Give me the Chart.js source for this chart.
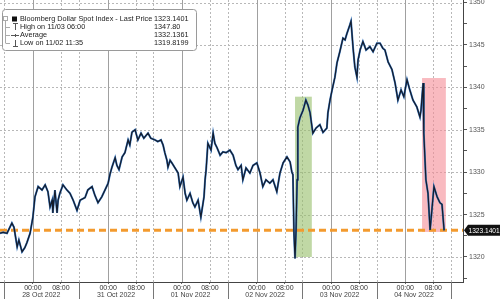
<!DOCTYPE html>
<html>
<head>
<meta charset="utf-8">
<script src="https://cdn.jsdelivr.net/npm/chart.js@4.4.0/dist/chart.umd.min.js"></script>
<style>
  html, body { margin: 0; padding: 0; background: #fff; }
</style>
</head>
<body>
<canvas id="chart" width="500" height="299"></canvas>
<script>
// trading hours on the axis (weekend removed)
const hours = [
  0.0, 0.9, 2.0, 3.4, 4.0, 4.9, 5.4, 6.3, 7.1, 7.7, 8.6, 9.4, 10.0, 10.9, 12.0, 12.9, 13.7, 14.3, 14.9, 15.1,
  15.7, 16.3, 16.6, 17.1, 18.0, 19.1, 20.0, 20.9, 22.0,
  22.9, 24.3, 25.1, 26.3, 27.1, 28.0, 29.1, 30.0, 30.9, 31.4, 32.0, 32.9, 33.4, 34.0, 34.9, 35.7, 36.6, 37.1,
  37.7, 38.6, 39.4, 40.3, 41.1, 42.3, 43.1,
  44.3, 45.1, 46.0, 46.6, 47.1, 47.7, 48.0, 48.6, 49.1, 50.0, 50.9, 51.4, 52.3, 52.9, 53.4, 54.3, 55.1, 55.7,
  56.6, 57.4, 57.7, 58.3, 58.6, 58.9, 59.4, 60.3, 60.9, 61.4, 62.0, 62.9, 63.7, 64.6,
  65.7, 66.6, 67.4, 68.0, 68.9, 69.4, 70.3, 71.4, 72.3, 73.4, 74.3, 75.1, 76.0, 77.1, 78.0, 79.1, 80.0, 80.9,
  82.0, 82.9, 83.4, 83.7, 84.0, 84.3, 84.6, 84.9, 85.1, 85.7, 86.6, 87.4, 88.0, 88.6,
  89.4, 90.3, 91.4, 92.3, 93.4, 93.7, 94.3, 94.9, 95.7, 96.3, 97.1, 98.0, 98.6, 99.1, 100.0, 100.3, 100.9,
  101.4, 102.0, 102.3, 102.9, 103.7, 104.6, 105.7, 106.6, 107.7,
  108.6, 109.4, 110.0, 110.9, 112.0, 112.9, 113.7, 114.6, 115.4, 116.3, 117.1, 118.0, 119.1, 120.0, 120.3,
  120.9, 121.1, 121.7, 122.3, 122.9, 123.4, 124.0, 124.9, 125.7, 126.3, 126.9
];
const prices = [
  1322.8, 1322.9, 1322.8, 1324.0, 1323.5, 1321.2, 1322.0, 1320.6, 1321.1, 1321.7, 1322.8, 1324.7, 1327.1, 1328.3, 1327.9, 1328.5, 1327.7, 1325.9, 1326.7, 1325.2,
  1327.9, 1325.2, 1326.7, 1327.5, 1328.5, 1327.9, 1327.5, 1326.7, 1325.5,
  1326.7, 1327.0, 1327.9, 1328.3, 1327.3, 1326.4, 1327.1, 1327.9, 1328.7, 1329.7, 1330.6, 1331.7, 1330.8, 1330.3, 1331.8, 1332.3, 1333.8, 1333.2,
  1334.7, 1335.0, 1333.8, 1334.6, 1334.0, 1334.6, 1334.0,
  1333.8, 1333.6, 1333.8, 1333.2, 1332.3, 1331.4, 1330.6, 1331.4, 1331.1, 1330.5, 1329.9, 1328.3, 1329.4, 1327.5, 1326.7, 1327.5, 1326.4, 1325.9,
  1326.7, 1324.7, 1325.5, 1327.1, 1329.1, 1330.3, 1333.4, 1332.6, 1334.6, 1333.4, 1332.9, 1332.0, 1332.4, 1332.3,
  1332.6, 1332.0, 1330.8, 1330.3, 1330.8, 1329.1, 1330.5, 1329.9, 1330.8, 1331.1, 1329.9, 1328.3, 1329.1, 1328.7, 1329.1, 1327.7, 1329.9, 1331.1,
  1331.8, 1331.2, 1330.0, 1329.7, 1322.8, 1319.82, 1323.2, 1329.1, 1335.3, 1336.4, 1337.3, 1338.5, 1337.9, 1337.0,
  1334.6, 1335.2, 1335.6, 1334.7, 1335.2, 1337.0, 1338.5, 1339.7, 1341.2, 1342.9, 1344.2, 1345.8, 1345.6, 1346.3, 1347.4, 1347.8, 1344.6,
  1342.4, 1341.2, 1343.2, 1344.4, 1345.4, 1344.4, 1344.8, 1344.2, 1345.2,
  1345.2, 1344.6, 1344.4, 1343.0, 1342.1, 1340.5, 1338.5, 1339.7, 1338.9, 1340.9, 1339.7, 1338.5, 1337.7, 1336.5, 1337.3,
  1340.5, 1334.6, 1329.1, 1327.5, 1323.2, 1325.5, 1328.3, 1327.1, 1326.4, 1326.2, 1323.1401
];

const sessionOpen = [1.1, 22.5, 43.8, 65.1, 86.4, 107.7, 128.9];
const midnight = [9.4, 30.9, 52.0, 73.4, 94.6, 115.8];
const morning = [17.4, 38.9, 60.0, 81.4, 102.6, 123.8];
const dateLabels = ["28 Oct 2022", "31 Oct 2022", "01 Nov 2022", "02 Nov 2022", "03 Nov 2022", "04 Nov 2022"];
const yTicks = [1317.5, 1320, 1322.5, 1325, 1327.5, 1330, 1332.5, 1335, 1337.5, 1340, 1342.5, 1345, 1347.5, 1350];
const yLabels = [1320, 1325, 1330, 1335, 1340, 1345, 1350];

const lastPrice = 1323.1401;
const legendRows = [
  ["Bloomberg Dollar Spot Index - Last Price", "1323.1401"],
  ["High on 11/03 06:00", "1347.80"],
  ["Average", "1332.1361"],
  ["Low on 11/02 11:35", "1319.8199"]
];

// shaded areas: [from hour, to hour, low, high]
const greenBox = [84.3, 89.1, 1320.0, 1338.9];
const redBox = [120.6, 127.4, 1322.95, 1341.1];

const xMin = 0, xMax = 132.3;
const yMin = 1317.05, yMax = 1350.3;

const timeTicks = [];
midnight.forEach((m, i) => { timeTicks.push(m); timeTicks.push(morning[i]); });

const FONT = '"Liberation Sans", Arial, sans-serif';

const points = hours.map((h, i) => ({ x: h, y: prices[i] }));

function line(ctx, x1, y1, x2, y2) {
  ctx.beginPath();
  ctx.moveTo(x1, y1);
  ctx.lineTo(x2, y2);
  ctx.stroke();
}

function drawBox(ctx, x, y, box, color) {
  const l = x.getPixelForValue(box[0]);
  const r = x.getPixelForValue(box[1]);
  const b = y.getPixelForValue(box[2]);
  const t = y.getPixelForValue(box[3]);
  ctx.fillStyle = color;
  ctx.fillRect(l, t, r - l, b - t);
}

const overlay = {
  id: "overlay",
  beforeDatasetsDraw(chart) {
    const { ctx, chartArea: a, scales: { x, y } } = chart;
    ctx.save();
    ctx.lineWidth = 1;

    // dotted grid
    ctx.strokeStyle = "#b8b8b8";
    ctx.setLineDash([2, 2]);
    yLabels.forEach(v => {
      const py = Math.round(y.getPixelForValue(v)) + 0.5;
      line(ctx, a.left, py, a.right, py);
    });
    morning.concat(sessionOpen).forEach(v => {
      const px = Math.round(x.getPixelForValue(v)) + 0.5;
      line(ctx, px, a.top, px, a.bottom);
    });

    // midnight lines
    ctx.setLineDash([]);
    ctx.strokeStyle = "#a0a0a0";
    midnight.forEach(v => {
      const px = Math.round(x.getPixelForValue(v)) + 0.5;
      line(ctx, px, a.top, px, a.bottom);
    });

    drawBox(ctx, x, y, greenBox, "rgba(150, 190, 105, 0.6)");
    drawBox(ctx, x, y, redBox, "rgba(245, 140, 150, 0.6)");
    ctx.restore();
  },
  afterDraw(chart) {
    const { ctx, chartArea: a, scales: { x, y } } = chart;
    ctx.save();

    // y labels
    ctx.fillStyle = "#555";
    ctx.font = "7px " + FONT;
    ctx.textAlign = "left";
    ctx.textBaseline = "middle";
    yLabels.forEach(v => {
      ctx.fillText(String(v), a.right + 6, y.getPixelForValue(v));
    });

    // session separators + dates under the x axis
    ctx.strokeStyle = "#777";
    ctx.lineWidth = 1;
    sessionOpen.forEach(v => {
      const px = Math.round(x.getPixelForValue(v)) + 0.5;
      line(ctx, px, a.bottom, px, chart.height);
    });
    ctx.fillStyle = "#444";
    ctx.font = "7px " + FONT;
    ctx.textAlign = "center";
    ctx.textBaseline = "middle";
    dateLabels.forEach((d, i) => {
      const c = (x.getPixelForValue(sessionOpen[i]) + x.getPixelForValue(sessionOpen[i + 1])) / 2;
      ctx.fillText(d, c, 295);
    });

    // last price tag
    const py = y.getPixelForValue(lastPrice);
    ctx.fillStyle = "#111";
    ctx.beginPath();
    ctx.moveTo(a.right + 1, py);
    ctx.lineTo(a.right + 5, py - 5.5);
    ctx.lineTo(chart.width, py - 5.5);
    ctx.lineTo(chart.width, py + 5.5);
    ctx.lineTo(a.right + 5, py + 5.5);
    ctx.closePath();
    ctx.fill();
    ctx.fillStyle = "#fff";
    ctx.font = "6.6px " + FONT;
    ctx.textAlign = "left";
    ctx.fillText(lastPrice.toFixed(4), a.right + 5.5, py + 0.5);

    // legend box
    ctx.fillStyle = "#fff";
    ctx.strokeStyle = "#9a9a9a";
    ctx.beginPath();
    ctx.roundRect(2.5, 9.5, 194, 41, 3);
    ctx.fill();
    ctx.stroke();

    const rows = [19, 27, 35, 43];
    ctx.strokeStyle = "#aaa";
    line(ctx, 5.5, 21, 5.5, 43);
    rows.slice(1).forEach(r => line(ctx, 5.5, r + 0.5, 10, r + 0.5));
    ctx.strokeRect(3.5, 16.5, 4, 4);
    ctx.fillStyle = "#111";
    ctx.fillRect(12, 16.5, 5, 5);

    ctx.strokeStyle = "#555";
    line(ctx, 13, 23.5, 18, 23.5);
    line(ctx, 15.5, 23.5, 15.5, 30);
    line(ctx, 11, 35.5, 19, 35.5);
    line(ctx, 15.5, 34, 15.5, 37);
    line(ctx, 15.5, 40, 15.5, 46.5);
    line(ctx, 13, 46.5, 18, 46.5);

    ctx.fillStyle = "#222";
    ctx.font = "7.3px " + FONT;
    ctx.textBaseline = "middle";
    legendRows.forEach((row, i) => {
      ctx.fillText(row[0], 20, rows[i]);
      ctx.fillText(row[1], 154, rows[i]);
    });
    ctx.restore();
  }
};

new Chart(document.getElementById("chart"), {
  type: "line",
  data: {
    datasets: [
      {
        data: [{ x: xMin, y: lastPrice }, { x: xMax, y: lastPrice }],
        borderColor: "#f39a2e",
        borderWidth: 3,
        borderDash: [7, 4],
        order: 3
      },
      {
        data: points,
        borderColor: "#3a78c0",
        borderWidth: 2,
        order: 2
      },
      {
        data: points,
        borderColor: "#141c2c",
        borderWidth: 1.2,
        order: 1
      }
    ]
  },
  options: {
    responsive: false,
    animation: false,
    layout: { padding: 0 },
    elements: { point: { radius: 0 }, line: { tension: 0 } },
    plugins: { legend: { display: false }, tooltip: { enabled: false } },
    scales: {
      x: {
        type: "linear",
        min: xMin,
        max: xMax,
        afterBuildTicks: s => { s.ticks = timeTicks.map(v => ({ value: v })); },
        afterFit: s => { s.height = 17; },
        border: { color: "#444" },
        grid: { drawOnChartArea: false, tickLength: 2, tickColor: "#666" },
        ticks: {
          autoSkip: false,
          maxRotation: 0,
          padding: 0,
          color: "#333",
          font: { size: 7, family: FONT },
          callback: (v, i) => (i % 2 === 0 ? "00:00" : "08:00")
        }
      },
      y: {
        type: "linear",
        position: "right",
        min: yMin,
        max: yMax,
        afterBuildTicks: s => { s.ticks = yTicks.map(v => ({ value: v })); },
        afterFit: s => { s.width = 37; },
        border: { color: "#444" },
        grid: { drawOnChartArea: false, tickLength: 4, tickColor: "#555" },
        ticks: { display: false }
      }
    }
  },
  plugins: [overlay]
});
</script>
</body>
</html>
